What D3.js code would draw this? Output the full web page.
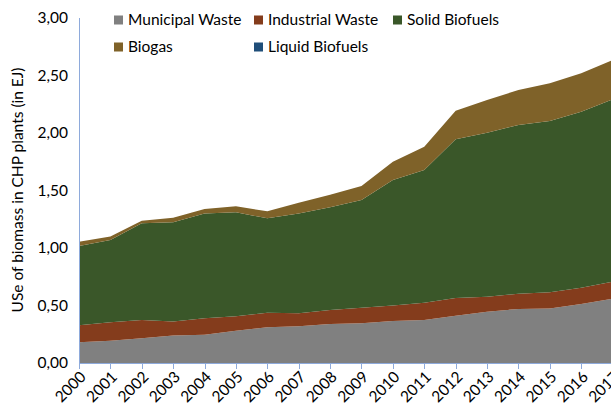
<!DOCTYPE html>
<html><head><meta charset="utf-8">
<script src="https://cdn.jsdelivr.net/npm/d3@7"></script>
<style>
html,body{margin:0;padding:0;background:#fff;overflow:hidden}
text{font-family:Lato,"Open Sans",sans-serif;fill:#000}
</style></head>
<body><svg id="c" width="611" height="414"></svg>
<script>
const years = [2000,2001,2002,2003,2004,2005,2006,2007,2008,2009,2010,2011,2012,2013,2014,2015,2016,2017];
const municipalWaste = [0.180,0.194,0.215,0.240,0.245,0.280,0.310,0.320,0.340,0.345,0.365,0.374,0.410,0.446,0.470,0.475,0.513,0.560];
const industrialWaste = [0.148,0.160,0.159,0.120,0.145,0.126,0.127,0.112,0.121,0.136,0.135,0.150,0.155,0.131,0.133,0.140,0.142,0.147];
const solidBiofuels = [0.689,0.716,0.841,0.863,0.910,0.904,0.821,0.868,0.893,0.936,1.091,1.154,1.380,1.426,1.467,1.489,1.530,1.586];
const biogas = [0.038,0.030,0.022,0.041,0.039,0.052,0.061,0.094,0.110,0.122,0.159,0.203,0.249,0.284,0.304,0.328,0.334,0.342];
const liquidBiofuels = [0,0,0,0,0,0,0,0,0,0,0,0,0,0,0,0,0,0];
const seriesNames = ["Municipal Waste","Industrial Waste","Solid Biofuels","Biogas","Liquid Biofuels"];
const colors = ["#808080","#843c1c","#3a5729","#7f6229","#1f4e79"];
const yTicks = [0,0.5,1,1.5,2,2.5,3];

const seriesVals = [municipalWaste,industrialWaste,solidBiofuels,biogas,liquidBiofuels];
const rows = years.map((y,i)=>{const r={year:y}; seriesNames.forEach((n,k)=>r[n]=seriesVals[k][i]); return r;});
const stack = d3.stack().keys(seriesNames)(rows);

const svg = d3.select("#c");
const x = d3.scaleLinear().domain([2000,2017]).range([79,612.6]);
const y = d3.scaleLinear().domain([0,3]).range([363,18]);

const area = d3.area().x(d=>x(d.data.year)).y0(d=>y(d[0])).y1(d=>y(d[1]));
svg.append("g").selectAll("path").data(stack).join("path")
  .attr("d",area).attr("fill",(d,i)=>colors[i]);

// y axis line
const axisColor = "#8eaadb";
svg.append("line").attr("x1",79.5).attr("x2",79.5).attr("y1",y(3)).attr("y2",y(0)).attr("stroke",axisColor).attr("stroke-width",1);
// y tick labels
svg.append("g").selectAll("text").data(yTicks).join("text")
  .attr("x",68).attr("y",d=>y(d)).attr("dy","0.35em").attr("text-anchor","end")
  .style("font-size","15.5px").text(d=>d3.format(".2f")(d).replace(".",","));

// x axis
const xg = svg.append("g").attr("transform","translate(0,363)");
xg.append("line").attr("x1",79).attr("x2",620).attr("y1",0.5).attr("y2",0.5).attr("stroke",axisColor);
xg.selectAll("line.t").data(years).join("line").attr("class","t")
  .attr("x1",d=>Math.round(x(d))+0.5).attr("x2",d=>Math.round(x(d))+0.5).attr("y1",0).attr("y2",6).attr("stroke",axisColor);
xg.selectAll("text").data(years).join("text")
  .attr("text-anchor","end")
  .attr("transform",d=>`translate(${x(d)+4},${11}) rotate(-45)`)
  .attr("dy","0.35em")
  .style("font-size","15.5px").text(d=>d);

// y axis title
svg.append("text").attr("transform","translate(23,190) rotate(-90)")
  .attr("text-anchor","middle").style("font-size","15.5px")
  .text("USe of biomass in CHP plants (in EJ)");

// legend
const legendPos = [[114,20],[254,20],[393,20],[114,47],[254,47]];
const lg = svg.append("g");
seriesNames.forEach((n,i)=>{
  const [lx,ly]=legendPos[i];
  lg.append("rect").attr("x",lx).attr("y",ly-4.5).attr("width",9).attr("height",9).attr("fill",colors[i]);
  lg.append("text").attr("x",lx+14).attr("y",ly).attr("dy","0.35em").style("font-size","15.5px").text(n);
});
</script></body></html>
